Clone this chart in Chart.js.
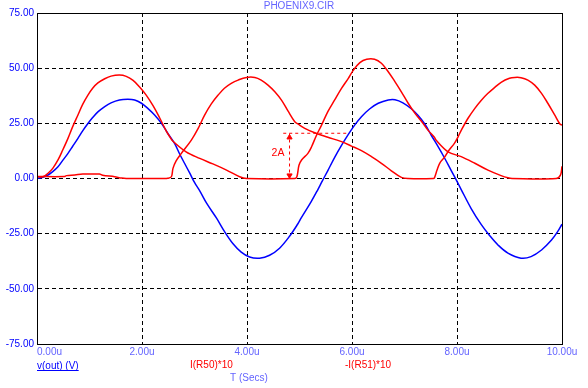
<!DOCTYPE html>
<html>
<head>
<meta charset="utf-8">
<script src="https://cdn.jsdelivr.net/npm/chart.js@4.4.1/dist/chart.umd.min.js"></script>
<style>
  html, body { margin: 0; padding: 0; background: #fff; }
  #wrap { width: 588px; height: 388px; position: relative; }
</style>
</head>
<body>
<div id="wrap"><canvas id="chart"></canvas></div>
<script>
// PHOENIX9.CIR transient plot: v(out), I(R50)*10, -I(R51)*10 vs time (us)
const TITLE = 'PHOENIX9.CIR';
const X_TICK_LABELS = ['0.00u', '2.00u', '4.00u', '6.00u', '8.00u', '10.00u'];
const Y_TICK_VALUES = [75, 50, 25, 0, -25, -50, -75];

// v(out) (V)
const T_VOUT = [0, 0.11, 0.21, 0.30, 0.40, 0.49, 0.59, 0.68, 0.78, 0.87, 0.97, 1.06, 1.16, 1.29, 1.41, 1.57, 1.73, 1.86, 1.99, 2.11, 2.24, 2.37, 2.49, 2.62, 2.72, 2.81, 2.91, 3.00, 3.10, 3.23, 3.42, 3.57, 3.73, 3.89, 4.05, 4.24, 4.43, 4.62, 4.81, 4.97, 5.03, 5.22, 5.35, 5.42, 5.54, 5.67, 5.80, 5.93, 6.05, 6.18, 6.34, 6.50, 6.69, 6.82, 6.97, 7.13, 7.26, 7.39, 7.51, 7.64, 7.76, 7.89, 8.02, 8.08, 8.27, 8.46, 8.62, 8.78, 8.97, 9.22, 9.41, 9.61, 9.80, 9.92, 10.0];
const V_VOUT = [0, 0.6, 1.6, 3.1, 5.3, 8.2, 11.4, 14.6, 18.2, 21.6, 24.9, 27.6, 30.2, 32.6, 34.3, 35.6, 35.9, 35.6, 34.1, 31.8, 28.8, 25.0, 20.5, 15.9, 11.0, 6.9, 2.4, -1.8, -5.6, -11.2, -18.0, -24.0, -29.5, -33.4, -35.6, -36.1, -34.8, -31.6, -26.2, -20.5, -18.0, -10.6, -5.0, -1.8, 3.6, 9.6, 15.0, 20.0, 24.2, 28.0, 31.6, 34.1, 35.6, 35.7, 34.3, 31.6, 28.6, 24.6, 19.6, 14.4, 9.4, 3.6, -2.2, -5.0, -13.6, -20.8, -25.8, -30.1, -33.8, -36.1, -35.4, -32.4, -27.9, -24.0, -20.7];

// I(R50)*10
const T_R50 = [0, 0.11, 0.21, 0.30, 0.40, 0.49, 0.59, 0.68, 0.78, 0.87, 0.97, 1.06, 1.16, 1.29, 1.41, 1.57, 1.70, 1.83, 1.95, 2.08, 2.21, 2.34, 2.46, 2.53, 2.59, 2.84, 3.10, 3.35, 3.61, 3.86, 3.99, 4.91, 4.95, 4.99, 5.04, 5.16, 5.23, 5.32, 5.42, 5.54, 5.67, 5.80, 5.93, 6.02, 6.15, 6.28, 6.43, 6.56, 6.69, 6.82, 6.94, 7.07, 7.20, 7.33, 7.45, 7.57, 7.60, 7.83, 8.08, 8.34, 8.59, 8.84, 8.97, 9.05, 9.89, 9.97, 10.0];
const V_R50 = [0.8, 0.8, 2.4, 4.6, 8.4, 12.9, 18.2, 23.5, 28.8, 33.6, 37.8, 40.9, 43.3, 45.2, 46.4, 46.9, 46.3, 44.5, 41.6, 37.8, 33.0, 27.3, 21.6, 18.9, 16.9, 12.1, 9.1, 6.6, 3.8, 0.8, 0, 0, 0.8, 6.0, 8.4, 11.4, 14.4, 19.4, 24.2, 30.3, 35.6, 40.8, 45.4, 48.9, 52.5, 54.0, 54.0, 52.2, 48.4, 43.8, 39.3, 34.1, 29.5, 25.7, 21.8, 18.7, 17.4, 12.1, 9.9, 6.9, 3.8, 1.3, 0.3, 0, 0, 1.5, 5.5];

// -I(R51)*10
const T_R51 = [0, 0.52, 0.56, 0.72, 0.87, 1.19, 1.25, 1.48, 1.61, 1.70, 2.40, 2.49, 2.56, 2.59, 2.65, 2.75, 2.94, 3.07, 3.19, 3.32, 3.45, 3.57, 3.70, 3.83, 3.99, 4.15, 4.27, 4.40, 4.53, 4.66, 4.78, 4.91, 4.97, 5.10, 5.29, 5.54, 5.80, 5.99, 6.18, 6.37, 6.56, 6.75, 6.94, 7.07, 7.55, 7.57, 7.62, 7.67, 7.76, 7.84, 7.95, 8.02, 8.08, 8.21, 8.34, 8.46, 8.59, 8.72, 8.84, 9.00, 9.10, 9.22, 9.35, 9.48, 9.61, 9.73, 9.86, 9.96, 10.0];
const V_R51 = [0.9, 0.9, 1.3, 1.6, 2.0, 2.0, 1.5, 0.8, 0.2, 0, 0, 0.1, 0.8, 4.6, 8.0, 11.4, 17.4, 22.7, 28.6, 33.8, 37.8, 40.9, 43.1, 44.6, 45.8, 45.8, 44.6, 42.3, 39.3, 35.4, 30.6, 25.7, 24.7, 22.7, 20.7, 18.7, 16.7, 14.7, 12.6, 9.9, 6.9, 3.5, 0.5, 0, 0, 0.3, 3.8, 6.9, 9.6, 12.6, 15.9, 18.9, 21.8, 27.3, 31.8, 35.4, 38.6, 41.3, 43.6, 45.4, 45.8, 45.7, 44.6, 42.3, 38.6, 34.1, 28.8, 24.7, 24.2];

// "2A" measurement marker (time in us, value in plot units)
const MARK_T = [4.81, 4.81];
const MARK_V = [0, 20.5];
const MARK_LINE_T = [4.69, 5.92];
const MARK_LINE_V = [20.5, 20.5];
const ARROW_T = [4.81, 4.81];
const ARROW_V = [18.6, 1.4];

const RED = '#ff0000';
const BLUE = '#0000ff';
const LIGHT_BLUE = '#6464ff';
const FONT = '"Liberation Sans", Arial, sans-serif';

function pts(ts, vs) { return ts.map((t, i) => ({ x: t, y: vs[i] })); }

const textPlugin = {
  id: 'texts',
  afterDraw(chart) {
    const { ctx, chartArea: a, scales: { x, y } } = chart;
    ctx.save();
    // frame
    ctx.strokeStyle = '#000';
    ctx.lineWidth = 1;
    ctx.setLineDash([]);
    ctx.strokeRect(a.left + 0.5, a.top + 0.5, a.right - a.left, a.bottom - a.top);

    ctx.font = '10px ' + FONT;
    ctx.textBaseline = 'middle';
    // title
    ctx.fillStyle = LIGHT_BLUE;
    ctx.textAlign = 'center';
    ctx.fillText(TITLE, 299, 6);
    // x tick labels
    X_TICK_LABELS.forEach((lab, i) => {
      const px = x.getPixelForValue(i * 2);
      ctx.textAlign = i === 0 ? 'left' : 'center';
      ctx.fillText(lab, px, 352);
    });
    // axis title
    ctx.textAlign = 'left';
    ctx.fillText('T (Secs)', 230, 378);
    // legend names
    ctx.fillStyle = BLUE;
    ctx.fillText('v(out) (V)', 37, 366);
    const w = ctx.measureText('v(out) (V)').width;
    ctx.fillRect(37, 370, w, 1);
    ctx.fillStyle = RED;
    ctx.fillText('I(R50)*10', 190, 365);
    ctx.fillText('-I(R51)*10', 345, 365);
    // marker label
    ctx.font = '10.5px ' + FONT;
    ctx.textAlign = 'center';
    ctx.fillText('2A', x.getPixelForValue(4.59), y.getPixelForValue(11.5));
    ctx.restore();
  }
};

const lineBase = { pointRadius: 0, borderWidth: 1.5, fill: false, tension: 0.35 };

new Chart(document.getElementById('chart'), {
  type: 'line',
  data: {
    datasets: [
      Object.assign({ label: 'I(R50)*10', data: pts(T_R50, V_R50), borderColor: RED }, lineBase),
      Object.assign({ label: '-I(R51)*10', data: pts(T_R51, V_R51), borderColor: RED }, lineBase),
      Object.assign({ label: 'v(out) (V)', data: pts(T_VOUT, V_VOUT), borderColor: BLUE }, lineBase),
      { label: 'mark', data: pts(MARK_T, MARK_V), borderColor: RED, borderWidth: 1, borderDash: [3, 3], pointRadius: 0 },
      { label: 'markline', data: pts(MARK_LINE_T, MARK_LINE_V), borderColor: RED, borderWidth: 1, borderDash: [3, 3], pointRadius: 0 },
      { label: 'arrows', data: pts(ARROW_T, ARROW_V), showLine: false, pointStyle: 'triangle', pointRotation: [0, 180], pointRadius: 3, backgroundColor: RED, borderColor: RED, borderWidth: 1 }
    ]
  },
  options: {
    responsive: true,
    maintainAspectRatio: false,
    animation: false,
    layout: { padding: { left: 0, top: 13, right: 26, bottom: 0 } },
    plugins: { legend: { display: false }, tooltip: { enabled: false }, title: { display: false } },
    scales: {
      x: {
        type: 'linear', min: 0, max: 10,
        afterFit: s => { s.height = 44; },
        ticks: { stepSize: 2, display: false },
        grid: {
          drawTicks: false,
          color: c => (c.tick && (c.tick.value === 0 || c.tick.value === 10)) ? 'rgba(0,0,0,0)' : '#000'
        },
        border: { display: true, color: '#000', dash: [4, 3] }
      },
      y: {
        min: -75, max: 75,
        afterFit: s => { s.width = 37; },
        afterBuildTicks: s => { s.ticks = Y_TICK_VALUES.map(v => ({ value: v })); },
        ticks: {
          padding: 3,
          color: BLUE,
          font: { family: FONT, size: 10 },
          callback: v => v.toFixed(2)
        },
        grid: {
          drawTicks: false,
          color: c => (c.tick && (c.tick.value === 75 || c.tick.value === -75)) ? 'rgba(0,0,0,0)' : '#000'
        },
        border: { display: true, color: '#000', dash: [4, 3] }
      }
    }
  },
  plugins: [textPlugin]
});
</script>
</body>
</html>
